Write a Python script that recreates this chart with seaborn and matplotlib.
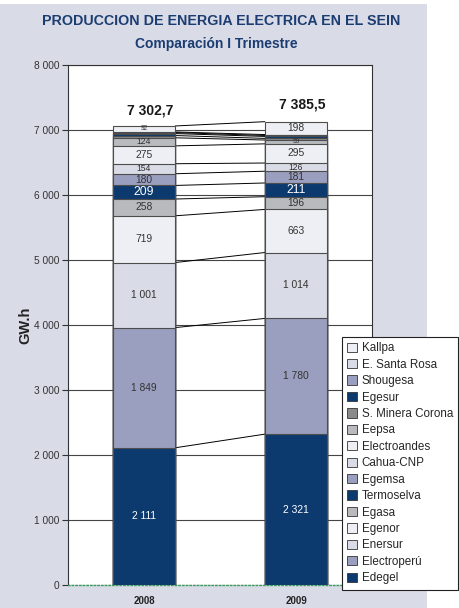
import numpy as np
import pandas as pd
import matplotlib.pyplot as plt
import seaborn as sns
from matplotlib.patches import Patch, Rectangle
from matplotlib import font_manager

# ---------- DATA ------------------------------------------------------------------
years = ["2008", "2009"]
companies = ["Edegel", "Electroperú", "Enersur", "Egenor", "Egasa", "Termoselva",
             "Egemsa", "Cahua-CNP", "Electroandes", "Eepsa", "S. Minera Corona",
             "Egesur", "Shougesa", "E. Santa Rosa", "Kallpa"]
gen_2008 = [2111, 1849, 1001, 719, 258, 209, 180, 154, 275, 124, 35, 30, 15, 10, 92]
gen_2009 = [2321, 1780, 1014, 663, 196, 211, 181, 126, 295, 59, 25, 30, 15, 14, 198]
show_label = [True] * 10 + [False] * 4 + [True]
totals = [7302.7, 7385.5]
total_labels = ["7 302,7", "7 385,5"]
yticks = [0, 1000, 2000, 3000, 4000, 5000, 6000, 7000, 8000]

NAVY, LAV, PALE, WHITE2, GRAY, DGRAY = "#0d3a6e", "#9a9fbf", "#d9dbe6", "#eeeff4", "#b9babe", "#8a8a8c"
colors = [NAVY, LAV, PALE, WHITE2, GRAY, NAVY, LAV, PALE, WHITE2, GRAY, DGRAY, NAVY, LAV, PALE, WHITE2]

df = pd.DataFrame({"Company": companies, "2008": gen_2008, "2009": gen_2009})
cum = df[years].cumsum()

# ---------- FIGURE ----------------------------------------------------------------
sns.set_theme(style="white")
installed = {f.name for f in font_manager.fontManager.ttflist}
narrow = "Liberation Sans Narrow" if "Liberation Sans Narrow" in installed else "Liberation Sans"
plt.rcParams["font.family"] = ["Liberation Sans", "DejaVu Sans"]

fig = plt.figure(figsize=(4.6, 6.08), dpi=100)
fig.patch.set_facecolor("white")
fig.patches.append(Rectangle((0, 0), 427 / 460, 1 - 4 / 608, transform=fig.transFigure,
                             facecolor="#d9dbe7", edgecolor="none", zorder=-10))

ax = fig.add_axes([68 / 460, 1 - 585 / 608, 304 / 460, 520 / 608])
ax.set_facecolor("white")

W = 0.41
# draw cumulative bars from the top layer down so lower layers cover upper ones
for i in range(len(companies) - 1, -1, -1):
    sns.barplot(x=years, y=cum.iloc[i].values, color=colors[i], saturation=1,
                width=W, edgecolor="#4d4d4d", linewidth=0.8, ax=ax, zorder=3)

# connector lines between bars
for i in range(len(companies)):
    ax.plot([W / 2, 1 - W / 2], [cum.iloc[i]["2008"], cum.iloc[i]["2009"]],
            color="black", lw=0.7, zorder=2)

# segment labels
for j, yr in enumerate(years):
    for i, comp in enumerate(companies):
        if not show_label[i]:
            continue
        v = df.iloc[i][yr]
        mid = cum.iloc[i][yr] - v / 2
        txtc = "white" if colors[i] == NAVY else "#333333"
        if v < 110:
            fs = 4.8
        elif v < 170:
            fs = 6.2
        elif colors[i] == NAVY and v < 300:
            fs = 8.8
        else:
            fs = 7.4
        ax.text(j, mid, f"{v:,}".replace(",", " "), ha="center", va="center",
                fontsize=fs, color=txtc, zorder=5)

# totals
for j, t in enumerate(totals):
    ax.text(j + 0.04, t, total_labels[j], ha="center", va="center", fontsize=10,
            fontweight="bold", color="#1a1a1a", family=[narrow, "DejaVu Sans"], zorder=5)

ax.set_xlim(-0.5, 1.5)
ax.set_ylim(0, 8000)
ax.set_yticks(yticks)
ax.set_yticklabels([f"{v:,}".replace(",", " ") for v in yticks], fontsize=7.3, color="#333333")
ax.set_xticks([0, 1])
ax.set_xticklabels(years, fontsize=7, fontweight="bold", color="#222222")
ax.tick_params(axis="y", length=4, width=0.8, color="#333333", left=True, pad=2)
ax.tick_params(axis="x", length=0, pad=8)
ax.set_xlabel("")
ax.set_ylabel("GW.h", fontsize=10.5, fontweight="bold", color="#222222")
ax.yaxis.set_label_coords(-0.118, 0.5)
ax.grid(axis="y", color="#444444", lw=0.8, zorder=0)
ax.set_axisbelow(True)
for s in ["top", "right", "left"]:
    ax.spines[s].set_color("#333333")
    ax.spines[s].set_linewidth(0.8)
ax.spines["bottom"].set_color("#3c9a5c")
ax.spines["bottom"].set_linestyle(":")
ax.spines["bottom"].set_linewidth(1)

# titles
fig.text(221 / 460, 1 - 21 / 608, "PRODUCCION DE ENERGIA ELECTRICA EN EL SEIN",
         ha="center", va="center", fontsize=10.3, fontweight="bold", color="#1b3d72",
         family=[narrow, "DejaVu Sans"])
fig.text(216 / 460, 1 - 44 / 608, "Comparación I Trimestre", ha="center", va="center",
         fontsize=10, fontweight="bold", color="#1b3d72", family=[narrow, "DejaVu Sans"])

# legend
handles = [Patch(facecolor=colors[i], edgecolor="#333333", lw=0.6, label=companies[i])
           for i in range(len(companies) - 1, -1, -1)]
leg = fig.legend(handles=handles, loc="upper left", bbox_to_anchor=(342 / 460, 1 - 337 / 608),
                 fontsize=8.4, frameon=True, fancybox=False, handlelength=0.85,
                 handleheight=0.85, handletextpad=0.4, labelspacing=0.38, borderpad=0.45,
                 borderaxespad=0)
leg.get_frame().set_edgecolor("#222222")
leg.get_frame().set_linewidth(0.8)
leg.get_frame().set_facecolor("white")
leg.get_frame().set_alpha(1)

fig.savefig("out.png", dpi=100)
